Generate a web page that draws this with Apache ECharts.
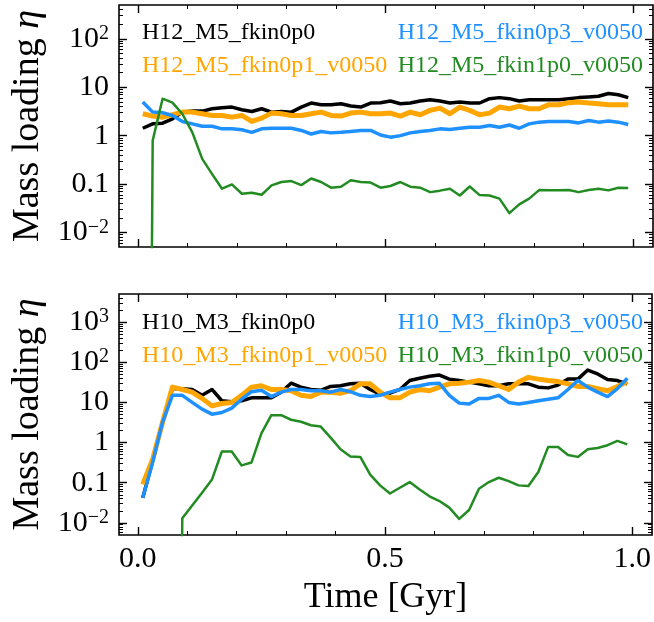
<!DOCTYPE html>
<html><head><meta charset="utf-8">
<script src="https://cdn.jsdelivr.net/npm/echarts@6/dist/echarts.min.js"></script>
<style>html,body{margin:0;padding:0;background:#fff}#c{width:654px;height:622px}</style>
</head><body><div id="c"></div>
<script>
// ---- data ----
const time = [0.01,0.03,0.05,0.07,0.09,0.11,0.13,0.15,0.17,0.19,0.21,0.23,0.25,0.27,0.29,0.31,0.33,0.35,0.37,0.39,0.41,0.43,0.45,0.47,0.49,0.51,0.53,0.55,0.57,0.59,0.61,0.63,0.65,0.67,0.69,0.71,0.73,0.75,0.77,0.79,0.81,0.83,0.85,0.87,0.89,0.91,0.93,0.95,0.97,0.99];

const topNames = ['H12_M5_fkin0p0','H12_M5_fkin0p1_v0050','H12_M5_fkin0p3_v0050','H12_M5_fkin1p0_v0050'];
const botNames = ['H10_M3_fkin0p0','H10_M3_fkin0p1_v0050','H10_M3_fkin0p3_v0050','H10_M3_fkin1p0_v0050'];

const topBlack  = [1.42,1.75,1.81,2.22,3.06,3.21,3.21,3.59,3.77,3.89,3.43,3.16,3.59,3.06,3.16,3.06,3.89,4.72,4.36,4.36,4.57,4.08,3.89,4.72,4.8,5.19,4.57,4.72,5.19,5.53,5.19,4.72,4.95,4.72,4.72,5.81,6.1,5.81,5.19,5.53,5.53,5.53,5.53,5.81,6.1,6.3,6.5,7.4,7.0,6.1];
const topOrange = [2.83,2.53,2.41,2.7,3.06,3.06,2.83,2.61,2.61,2.41,2.61,1.96,2.3,2.92,2.83,2.61,2.61,2.83,3.06,2.61,2.53,2.92,3.06,2.83,2.83,2.92,2.53,3.06,2.7,3.32,3.71,2.83,3.89,3.32,2.7,2.92,3.89,3.59,4.08,3.59,3.59,4.36,4.36,4.8,4.95,4.72,4.57,4.36,4.36,4.36];
const topBlue   = [4.95,3.06,2.97,2.61,1.96,1.75,1.56,1.56,1.38,1.38,1.32,1.17,1.38,1.42,1.42,1.42,1.28,1.08,1.22,1.14,1.17,1.22,1.28,1.28,1.03,0.93,1.0,1.14,1.22,1.28,1.38,1.34,1.42,1.49,1.49,1.62,1.49,1.66,1.42,1.75,1.9,1.96,1.96,1.96,1.83,2.06,1.9,2.0,1.9,1.7];
const topGreen  = [0,0.79,5.8,4.8,2.8,1.17,0.33,0.16,0.08,0.098,0.063,0.066,0.06,0.094,0.11,0.115,0.095,0.13,0.11,0.084,0.088,0.12,0.11,0.107,0.084,0.091,0.11,0.088,0.084,0.068,0.073,0.08,0.058,0.089,0.059,0.058,0.05,0.025,0.038,0.05,0.075,0.074,0.074,0.075,0.068,0.075,0.08,0.074,0.084,0.083];

const botBlack  = [0.042,0.35,3.2,22,22,21,15,21,11,10.4,11,13,13,13,18,30,24,21,20,25,26,29,30,21,16,17,21,35,40,45,48,38,35,32,29,26,26,29,29,29,24,23,27,38,38,64,51,37,35,29];
const botOrange = [0.091,0.38,3.2,24,21,18,12.6,8.2,9.4,10,15,24,26,21,21,19.5,15,14,18,18,17,19.5,29,29,18,13,13,18,21,19.5,24,29,30,32,35,32,26,21,32,42,38,35,33,29,25,25,22,19.5,25,33];
const botBlue   = [0.042,0.32,3.2,15,15,10,6.8,5.1,5.6,7.2,12,18.5,20,14,18,21,21,19.5,19.5,18,21,18.5,15,14,15,18,21,24,26,29,30,15,9.6,9.1,12.6,12.6,15,10,9.1,10,11,12,13,21,35,24,18,14,22,40];
const botGreen  = [0,0,0,0,0.013,0.027,0.056,0.12,0.6,0.6,0.27,0.32,1.7,4.8,4.8,3.7,3.3,2.7,2.5,1.33,0.68,0.45,0.44,0.16,0.086,0.054,0.075,0.104,0.068,0.046,0.035,0.024,0.0126,0.021,0.071,0.104,0.133,0.11,0.086,0.083,0.185,0.78,0.78,0.49,0.44,0.68,0.73,0.86,1.1,0.9];

const xMajorTicks = [0, 0.5, 1.0];
const xMinorTicks = [0.1,0.2,0.3,0.4,0.6,0.7,0.8,0.9];
const topYMajor = [0.01, 0.1, 1, 10, 100];
const botYMajor = [0.01, 0.1, 1, 10, 100, 1000];

// ---- styling ----
const FONT = 'Liberation Serif';
const colors = ['#000000', '#FFA500', '#1E90FF', '#228B22'];
const widths = [3.5, 5, 3.5, 2.5];
const YMIN = 0.005;

function minorLog(lo, hi) {
  const out = [];
  for (let e = -3; e <= 4; e++) for (let k = 2; k <= 9; k++) {
    const v = k * Math.pow(10, e);
    if (v > lo && v < hi) out.push(v);
  }
  return out;
}

function yLabel(v) {
  const e = Math.round(Math.log10(v));
  if (e === 0) return '1';
  if (e === 1) return '10';
  if (e === -1) return '0.1';
  return '{b|10}{s|' + (e < 0 ? '\u2212' : '') + Math.abs(e) + '}';
}

const grids = [
  { left: 119, right: 1, top: 5, height: 242, show: true, borderColor: '#000', borderWidth: 1.6, backgroundColor: 'transparent' },
  { left: 119, right: 1, top: 294, height: 241, show: true, borderColor: '#000', borderWidth: 1.6, backgroundColor: 'transparent' }
];

const xAxes = [], yAxes = [];
function addX(grid, pos, ticks, len, showLabel) {
  xAxes.push({
    type: 'value', gridIndex: grid, position: pos, min: -0.038, max: 1.04,
    axisLine: { show: false, onZero: false }, splitLine: { show: false },
    axisTick: { show: true, inside: true, length: len, customValues: ticks, lineStyle: { color: '#000', width: len > 5 ? 1.4 : 1 } },
    axisLabel: showLabel ? { show: true, customValues: ticks, margin: 9, fontSize: 30, fontFamily: FONT, color: '#000', formatter: v => v.toFixed(1) } : { show: false },
    name: showLabel ? 'Time [Gyr]' : '', nameLocation: 'middle', nameGap: 45,
    nameTextStyle: { fontSize: 36, fontFamily: FONT, color: '#000' }
  });
}
// main log axis: carries the series and the labels
function addYMain(grid, ymax, majors) {
  yAxes.push({
    type: 'log', logBase: 10, gridIndex: grid, position: 'left', min: YMIN, max: ymax,
    axisLine: { show: false, onZero: false }, splitLine: { show: false }, axisTick: { show: false },
    axisLabel: { show: true, customValues: majors, margin: 10, fontSize: 30, fontFamily: FONT, color: '#000', formatter: yLabel,
      rich: { b: { fontSize: 30, fontFamily: FONT, color: '#000', lineHeight: 30 }, s: { fontSize: 20, fontFamily: FONT, color: '#000', verticalAlign: 'top', lineHeight: 12 } } },
    name: 'Mass loading {i|\u03B7}', nameLocation: 'middle', nameGap: 70, nameRotate: 90,
    nameTextStyle: { fontSize: 38, fontFamily: FONT, color: '#000', rich: { i: { fontSize: 38, fontFamily: FONT, fontStyle: 'italic', color: '#000' } } }
  });
}
// tick-only axes laid out in log10 space (decade ticks and 2..9 minor ticks)
function addYTicks(grid, pos, ymax, ticks, len) {
  yAxes.push({
    type: 'value', gridIndex: grid, position: pos, min: Math.log10(YMIN), max: Math.log10(ymax),
    axisLine: { show: false, onZero: false }, splitLine: { show: false }, axisLabel: { show: false },
    axisTick: { show: true, inside: true, length: len, customValues: ticks.map(v => Math.log10(v)), lineStyle: { color: '#000', width: len > 5 ? 1.4 : 1 } }
  });
}

[0, 1].forEach(g => {
  const ymax = g === 0 ? 500 : 5000;
  const majors = g === 0 ? topYMajor : botYMajor;
  const minors = minorLog(YMIN, ymax);
  addX(g, 'bottom', xMajorTicks, 8, g === 1);   // index 4g
  addX(g, 'bottom', xMinorTicks, 4, false);
  addX(g, 'top', xMajorTicks, 8, false);
  addX(g, 'top', xMinorTicks, 4, false);
  addYMain(g, ymax, majors);                      // index 5g
  addYTicks(g, 'left', ymax, majors, 8);
  addYTicks(g, 'left', ymax, minors, 4);
  addYTicks(g, 'right', ymax, majors, 8);
  addYTicks(g, 'right', ymax, minors, 4);
});

// matplotlib clips non-positive values on a log axis to a tiny positive number
const clipLog = v => (v <= 0 ? 1e-30 : v);

const panels = [[topBlack, topOrange, topBlue, topGreen], [botBlack, botOrange, botBlue, botGreen]];
const names = [topNames, botNames];
const series = [];
panels.forEach((arrs, g) => {
  arrs.forEach((arr, k) => {
    series.push({
      type: 'line', name: names[g][k], xAxisIndex: 4 * g, yAxisIndex: 5 * g,
      data: time.map((t, i) => [t, clipLog(arr[i])]),
      showSymbol: false, symbol: 'none', clip: true,
      lineStyle: { color: colors[k], width: widths[k], join: 'round', cap: 'butt' },
      itemStyle: { color: colors[k] }, z: 2 + k
    });
  });
});

// legend texts (no handles, coloured labels, two columns)
const legendRows = [[33, 66], [323, 356]];
const graphic = [];
[0, 1].forEach(g => {
  const [r1, r2] = legendRows[g];
  const nm = names[g];
  const spec = [[0, 142, r1, 'left'], [1, 142, r2, 'left'], [2, 643, r1, 'right'], [3, 643, r2, 'right']];
  spec.forEach(([k, x, y, al]) => {
    graphic.push({ type: 'text', x: x, y: y, z: 10, style: { text: nm[k], fill: colors[k], fontSize: 24, fontFamily: FONT, textAlign: al, textVerticalAlign: 'middle' } });
  });
});

const chart = echarts.init(document.getElementById('c'), null, { renderer: 'canvas' });
chart.setOption({
  animation: false,
  backgroundColor: '#fff',
  grid: grids,
  xAxis: xAxes,
  yAxis: yAxes,
  series: series,
  graphic: graphic
});
</script>
</body></html>
